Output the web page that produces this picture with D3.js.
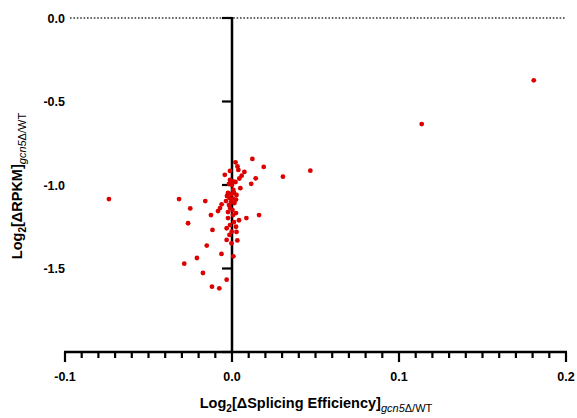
<!DOCTYPE html>
<html>
<head>
<meta charset="utf-8">
<script src="https://cdn.jsdelivr.net/npm/d3@7"></script>
<style>
  body { margin: 0; background: #fff; }
  svg { display: block; font-family: "Liberation Sans", Arial, sans-serif; }
</style>
</head>
<body>
<svg id="chart" width="577" height="418"></svg>
<script>
// x: log2 change in splicing efficiency, y: log2 change in RPKM
let xVals = [0.1807, 0.1136, 0.0469, 0.0305, 0.0190, 0.0122, -0.0737, -0.0317, -0.0160, -0.0250,
             -0.0126, -0.0084, -0.0263, -0.0117, -0.0151, -0.0210, -0.0286, -0.0174, -0.0120, -0.0076,
             -0.0032, -0.0063, 0.0008, -0.0032, -0.0003, 0.0032, 0.0024, -0.0032, -0.0002, -0.0012,
             0.0042, 0.0086, 0.0162, -0.0024, 0.0006, -0.0072, -0.0012, -0.0062, 0.0074, 0.0058,
             0.0044, 0.0142, 0.0115, 0.0050, 0.0021, 0.0033, 0.0038, -0.0012, -0.0043, 0.0008,
             -0.0012, 0.0006, 0.0021, -0.0018, 0.0000, -0.0024, -0.0006, 0.0012, 0.0027, -0.0030,
             -0.0015, 0.0006, 0.0024, -0.0036, -0.0006, 0.0015, -0.0018, 0.0003, 0.0012, -0.0015,
             0.0027, -0.0024, 0.0024];
let yVals = [-0.373, -0.635, -0.914, -0.950, -0.892, -0.844, -1.084, -1.084, -1.096, -1.140,
             -1.180, -1.156, -1.229, -1.269, -1.363, -1.437, -1.471, -1.527, -1.609, -1.619,
             -1.567, -1.413, -1.427, -1.329, -1.349, -1.332, -1.250, -1.259, -1.280, -1.240,
             -1.211, -1.198, -1.180, -1.198, -1.180, -1.138, -1.138, -1.116, -0.922, -0.944,
             -0.961, -0.960, -0.993, -1.019, -0.864, -0.889, -0.910, -0.916, -0.939, -1.030,
             -0.970, -0.979, -0.982, -0.994, -1.000, -1.048, -1.054, -1.048, -1.060, -1.066,
             -1.078, -1.081, -1.087, -1.096, -1.102, -1.108, -1.120, -1.150, -1.222, -1.299,
             -1.281, -1.162, -1.168];

let xTicks = [-0.1, 0.0, 0.1, 0.2];
let xTickLabels = ["-0.1", "0.0", "0.1", "0.2"];
let yTicks = [0.0, -0.5, -1.0, -1.5, -2.0];
let yTickLabels = ["0.0", "-0.5", "-1.0", "-1.5", ""];

let svg = d3.select("#chart");

let x = d3.scaleLinear().domain([-0.1, 0.2]).range([65, 566]);
let y = d3.scaleLinear().domain([-2, 0]).range([352, 18]);

let data = xVals.map(function(d, i) { return {x: d, y: yVals[i]}; });

// dotted reference line at y = 0
svg.append("line")
   .attr("x1", x(-0.1) + 5).attr("x2", x(0.2))
   .attr("y1", y(0)).attr("y2", y(0))
   .attr("stroke", "#333")
   .attr("stroke-width", 1.6)
   .attr("stroke-dasharray", "1.6,1.8");

// x axis with minor ticks
let minor = d3.range(-10, 21).map(function(k) { return k / 100; });
let gx = svg.append("g").attr("transform", "translate(0," + y(-2) + ")");
gx.append("line")
  .attr("x1", x(-0.1) - 1).attr("x2", x(0.2) + 1)
  .attr("stroke", "#000").attr("stroke-width", 2.5);
gx.selectAll(".minor").data(minor).enter().append("line")
  .attr("x1", function(d) { return x(d); }).attr("x2", function(d) { return x(d); })
  .attr("y1", 0)
  .attr("y2", function(d) { return Math.abs(Math.round(d * 100)) % 10 == 0 ? 10 : 6; })
  .attr("stroke", "#000").attr("stroke-width", 2.2);
gx.selectAll(".lab").data(xTicks).enter().append("text")
  .attr("x", function(d) { return x(d); })
  .attr("y", 29)
  .attr("text-anchor", "middle")
  .attr("font-size", 12.5).attr("font-weight", "bold")
  .text(function(d, i) { return xTickLabels[i]; });

// y axis sits at x = 0, labels sit at the left edge
let gy = svg.append("g");
gy.append("line")
  .attr("x1", x(0)).attr("x2", x(0))
  .attr("y1", y(0) - 1).attr("y2", y(-2))
  .attr("stroke", "#000").attr("stroke-width", 2.5);
gy.selectAll(".tick").data(yTicks).enter().append("line")
  .attr("x1", x(0) - 10).attr("x2", x(0))
  .attr("y1", function(d) { return y(d); }).attr("y2", function(d) { return y(d); })
  .attr("stroke", "#000").attr("stroke-width", 2.2);
gy.selectAll(".lab").data(yTicks).enter().append("text")
  .attr("x", 65)
  .attr("y", function(d) { return y(d) + 4.5; })
  .attr("text-anchor", "end")
  .attr("font-size", 12.5).attr("font-weight", "bold")
  .text(function(d, i) { return yTickLabels[i]; });

// points
svg.selectAll(".pt").data(data).enter().append("circle")
   .attr("cx", function(d) { return x(d.x); })
   .attr("cy", function(d) { return y(d.y); })
   .attr("r", 2.4)
   .attr("fill", "#dd0000");

// axis titles
function title(sel, main, tail) {
  sel.append("tspan").text("Log");
  sel.append("tspan").attr("font-size", 10).attr("dy", 4).text("2");
  sel.append("tspan").attr("dy", -4).text(main);
  sel.append("tspan").attr("font-size", 11).attr("font-weight", "normal").attr("font-style", "italic").attr("dy", 4).text("gcn5");
  sel.append("tspan").attr("font-size", 11).attr("font-weight", "normal").text(tail);
}

let xt = svg.append("text")
  .attr("x", 316).attr("y", 408)
  .attr("text-anchor", "middle")
  .attr("font-size", 14.5).attr("font-weight", "bold");
title(xt, "[ΔSplicing Efficiency]", "Δ/WT");

let yt = svg.append("text")
  .attr("transform", "translate(22,186) rotate(-90)")
  .attr("text-anchor", "middle")
  .attr("font-size", 14.5).attr("font-weight", "bold");
title(yt, "[ΔRPKM]", "Δ/WT");
</script>
</body>
</html>
